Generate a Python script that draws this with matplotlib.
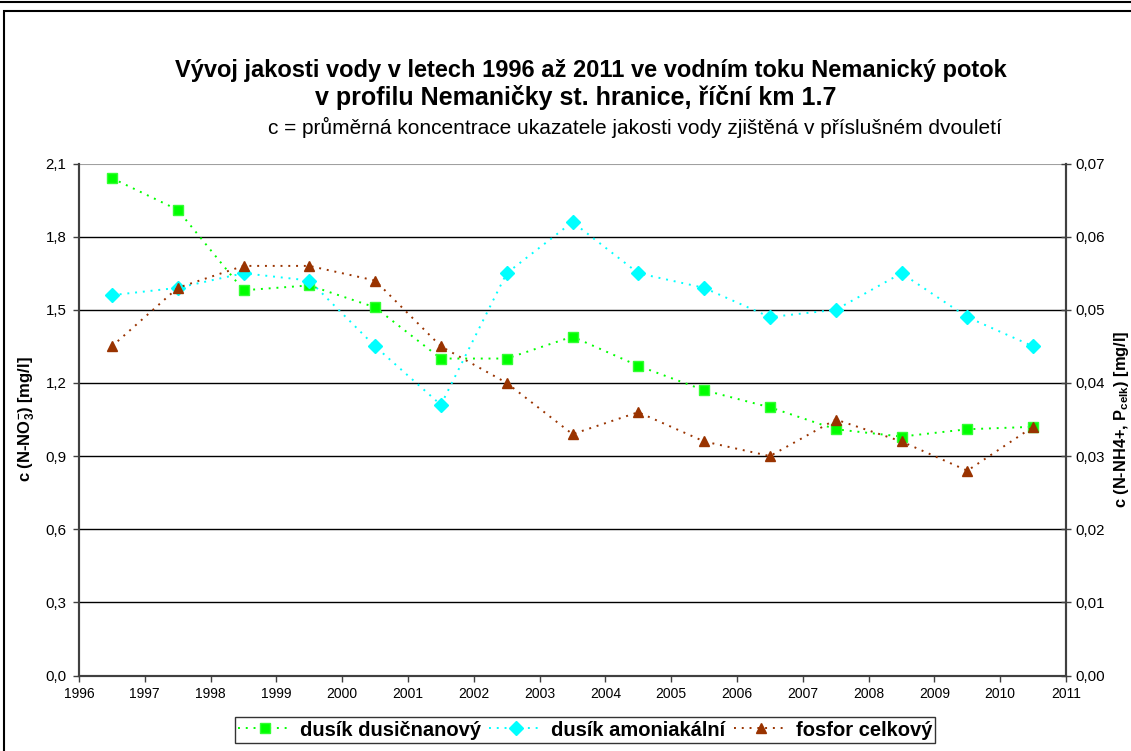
import matplotlib
matplotlib.use("Agg")
import matplotlib.pyplot as plt
from matplotlib.patches import Rectangle
from matplotlib.lines import Line2D
import numpy as np

plt.rcParams['font.family'] = ['Liberation Sans', 'DejaVu Sans']
plt.rcParams['mathtext.fontset'] = 'custom'
plt.rcParams['mathtext.rm'] = 'Liberation Sans'
plt.rcParams['mathtext.bf'] = 'Liberation Sans:bold'
plt.rcParams['mathtext.it'] = 'Liberation Sans:italic'

years = [1996.5, 1997.5, 1998.5, 1999.5, 2000.5, 2001.5, 2002.5, 2003.5,
         2004.5, 2005.5, 2006.5, 2007.5, 2008.5, 2009.5, 2010.5]
dusik_dusicnanovy = [2.04, 1.91, 1.58, 1.60, 1.51, 1.30, 1.30, 1.39,
                     1.27, 1.17, 1.10, 1.01, 0.98, 1.01, 1.02]
dusik_amoniakalni = [0.052, 0.053, 0.055, 0.054, 0.045, 0.037, 0.055, 0.062,
                     0.055, 0.053, 0.049, 0.050, 0.055, 0.049, 0.045]
fosfor_celkovy = [0.045, 0.053, 0.056, 0.056, 0.054, 0.045, 0.040, 0.033,
                  0.036, 0.032, 0.030, 0.035, 0.032, 0.028, 0.034]
year_ticks = list(range(1996, 2012))
left_ticks = [0.0, 0.3, 0.6, 0.9, 1.2, 1.5, 1.8, 2.1]
right_ticks = [0.0, 0.01, 0.02, 0.03, 0.04, 0.05, 0.06, 0.07]

W, H = 1131, 751
fig = plt.figure(figsize=(W / 100, H / 100), dpi=100)

# outer frames
fig.add_artist(Line2D([0, 1], [1 - 1.5 / H, 1 - 1.5 / H], transform=fig.transFigure,
                      color='black', lw=1.5))
fig.add_artist(Rectangle((3.5 / W, -0.02), 1.1, 1 - 10.5 / H + 0.02,
                         transform=fig.transFigure, fill=False,
                         edgecolor='black', lw=1.5))

L, R, T, B = 79, 1066, 163.5, 675.5
ax = fig.add_axes([L / W, 1 - B / H, (R - L) / W, (B - T) / H])
ax2 = ax.twinx()

ax.set_xlim(1996, 2011)
ax.set_ylim(0, 2.1)
ax2.set_ylim(0, 0.07)

for y in left_ticks[1:-1]:
    ax.axhline(y, color='black', lw=1.0, zorder=0)
ax.axhline(2.1, color='#a0a0a0', lw=1.5, zorder=0)

ls = (0, (1, 3))
l1, = ax.plot(years, dusik_dusicnanovy, linestyle=ls, color='#00ff00', lw=1.4,
              marker='s', markersize=6.8, markeredgecolor='#33ff33', zorder=3)
l2, = ax2.plot(years, dusik_amoniakalni, linestyle=ls, color='#00ffff', lw=1.4,
               marker='D', markersize=6.8, markeredgecolor='#00ffff', zorder=3)
l3, = ax2.plot(years, fosfor_celkovy, linestyle=ls, color='#993300', lw=1.4,
               marker='^', markersize=7.5, markeredgecolor='#993300', zorder=3)

ax.set_xticks(year_ticks)
ax.set_xticklabels([str(y) for y in year_ticks], fontsize=10)
ax.set_yticks(left_ticks)
ax.set_yticklabels([f"{v:.1f}".replace('.', ',') for v in left_ticks], fontsize=10.8)
ax2.set_yticks(right_ticks)
ax2.set_yticklabels([f"{v:.2f}".replace('.', ',') for v in right_ticks], fontsize=10.8)

for a in (ax, ax2):
    for s in ('left', 'right', 'bottom'):
        a.spines[s].set_color('#404040')
        a.spines[s].set_linewidth(1.5)
    a.spines['top'].set_visible(False)
ax.tick_params(axis='y', direction='out', length=4.5, width=1, color='#404040', pad=4.5)
ax.tick_params(axis='x', direction='out', length=4, width=1, color='#404040', pad=4)
ax2.tick_params(axis='y', direction='inout', length=7, width=1, color='#404040', pad=3)

ax.set_ylabel(r'c (N-NO$_\mathbf{3}^\mathbf{-}$) [mg/l]', fontsize=12,
              fontweight='bold', labelpad=6)
ax2.set_ylabel(r'c (N-NH4+, P$_\mathbf{celk}$) [mg/l]', fontsize=11.8,
               fontweight='bold', labelpad=5)

fig.text(591 / W, 1 - 70 / H, 'Vývoj jakosti vody v letech 1996 až 2011 ve vodním toku Nemanický potok',
         ha='center', va='center', fontsize=17, fontweight='bold')
fig.text(576 / W, 1 - 98 / H, 'v profilu Nemaničky st. hranice, říční km 1.7',
         ha='center', va='center', fontsize=18, fontweight='bold')
fig.text(635 / W, 1 - 127 / H, 'c = průměrná koncentrace ukazatele jakosti vody zjištěná v příslušném dvouletí',
         ha='center', va='center', fontsize=15)

leg = fig.legend([l1, l2, l3], ['dusík dusičnanový', 'dusík amoniakální', 'fosfor celkový'],
                 loc='center', bbox_to_anchor=(585 / W, 1 - 730 / H), ncol=3,
                 frameon=True, fancybox=False, edgecolor='black',
                 prop={'weight': 'bold', 'size': 14.5}, handlelength=2.7,
                 handletextpad=0.4, columnspacing=0.4, borderpad=0.15,
                 borderaxespad=0.2)
leg.get_frame().set_linewidth(1.0)

fig.savefig('out.png', dpi=100)
